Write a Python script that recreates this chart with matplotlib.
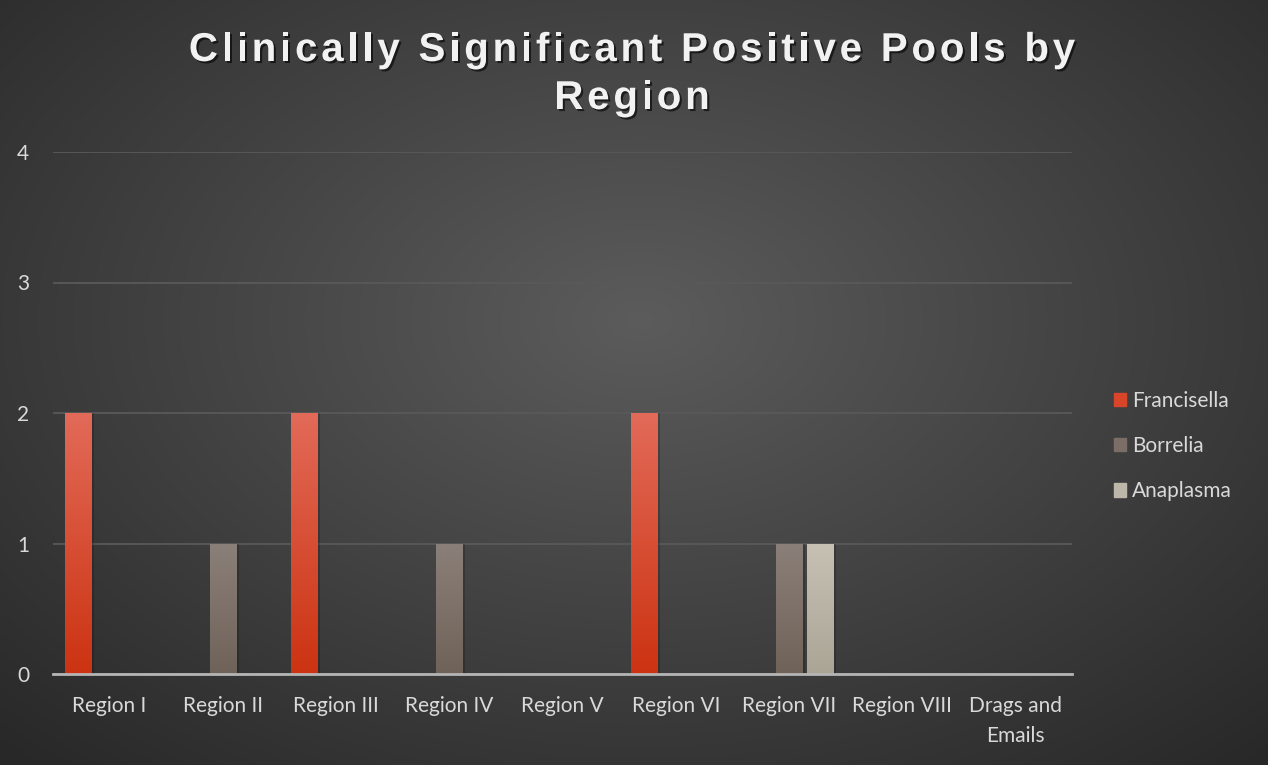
import numpy as np
import matplotlib.pyplot as plt
import matplotlib.patheffects as pe
from matplotlib.colors import LinearSegmentedColormap
from matplotlib.patches import Rectangle
from matplotlib.font_manager import FontProperties, findfont, get_font

# chart data
regions = ["Region I", "Region II", "Region III", "Region IV", "Region V",
           "Region VI", "Region VII", "Region VIII", "Drags and\nEmails"]
series = ["Francisella", "Borrelia", "Anaplasma"]
francisella = [2, 0, 2, 0, 0, 2, 0, 0, 0]
borrelia = [0, 1, 0, 1, 0, 0, 1, 0, 0]
anaplasma = [0, 0, 0, 0, 0, 0, 1, 0, 0]
yticks = [0, 1, 2, 3, 4]
title_lines = ["Clinically Significant Positive Pools by", "Region"]

# top / bottom colours of each bar's gradient, plus legend swatch colour
grads = [("#e26a58", "#cc3312"), ("#8b8079", "#6f6259"), ("#c7c1b4", "#aba596")]
swatch = ["#d9452b", "#7a6e66", "#bdb7a9"]

W, H = 1268, 765
fig = plt.figure(figsize=(W / 100, H / 100), dpi=100)

# radial-ish dark background
bg = fig.add_axes([0, 0, 1, 1])
bg.axis('off')
yy, xx = np.mgrid[0:H, 0:W]
d = np.sqrt(((xx - 640) / 1000.0) ** 2 + ((yy - 320) / 650.0) ** 2)
shade = np.clip(0.36 - 0.22 * d, 0.16, 0.36)
bg.imshow(np.dstack([shade, shade, shade]), extent=[0, 1, 0, 1], aspect='auto')
bg.set_xlim(0, 1)
bg.set_ylim(0, 1)

ax = fig.add_axes([53 / W, 1 - 674 / H, (1072 - 53) / W, (674 - 152) / H])
ax.patch.set_alpha(0)
x = np.arange(len(regions))
w = 0.235
off = 0.278

for i, (vals, name) in enumerate(zip([francisella, borrelia, anaplasma], series)):
    bars = ax.bar(x + (i - 1) * off, vals, w, color=grads[i][1], label=name, zorder=3)
    cmap = LinearSegmentedColormap.from_list("g%d" % i, [grads[i][1], grads[i][0]])
    for b in bars:
        h = b.get_height()
        if h <= 0:
            continue
        # soft shadow
        ax.add_patch(Rectangle((b.get_x() + 0.012, 0), b.get_width() + 0.01, h,
                               color="black", alpha=0.18, zorder=2, lw=0))
        b.set_facecolor("none")
        im = ax.imshow(np.linspace(0, 1, 100).reshape(-1, 1), cmap=cmap, origin='lower',
                       extent=[b.get_x(), b.get_x() + b.get_width(), 0, h],
                       aspect='auto', zorder=3)
        im.set_clip_path(b)

ax.set_xlim(-0.5, len(regions) - 0.5)
ax.set_ylim(0, 4)
ax.set_xticks(x)
ax.set_xticklabels(regions)
ax.set_yticks(yticks)
for s in ["top", "right", "left"]:
    ax.spines[s].set_visible(False)
ax.spines["bottom"].set_color("#b5b5b5")
ax.spines["bottom"].set_linewidth(2)
ax.spines["bottom"].set_zorder(4)
ax.tick_params(length=0, colors="#d9d9d9", labelsize=15)
ax.tick_params(axis='y', pad=17)
ax.tick_params(axis='x', pad=16)
for t in ax.get_xticklabels() + ax.get_yticklabels():
    t.set_fontfamily("Lato")
    t.set_linespacing(1.6)
ax.grid(axis='y', color="#595959", lw=1.3, zorder=1)
ax.set_axisbelow(True)

# title with letter spacing, placed glyph by glyph
tsize = 29
tprop = FontProperties(family="Liberation Sans", weight="bold", size=tsize)
ft = get_font(findfont(tprop))
ft.set_size(tsize, 100)
spacing = 3.8
shadow = [pe.withSimplePatchShadow(offset=(1.5, -1.5), shadow_rgbFace="black", alpha=0.6)]
for line, base in zip(title_lines, [61, 109]):
    adv = [ft.load_char(ord(c)).linearHoriAdvance / 65536.0 for c in line]
    total = sum(adv) + spacing * (len(line) - 1)
    cx = 632 - total / 2
    for c, a in zip(line, adv):
        if c != " ":
            fig.text(cx / W, 1 - base / H, c, fontproperties=tprop, color="#f2f2f2",
                     ha='left', va='baseline', path_effects=shadow)
        cx += a + spacing

handles = [Rectangle((0, 0), 1, 1, color=swatch[i]) for i in range(3)]
leg = fig.legend(handles, series, loc='center left', bbox_to_anchor=(0.8635, 0.417),
                 frameon=False, labelcolor="#d9d9d9", handlelength=0.6, handleheight=0.6,
                 handletextpad=0.3, labelspacing=1.22, prop={"family": "Lato", "size": 15})

fig.savefig("out.png", dpi=100)
